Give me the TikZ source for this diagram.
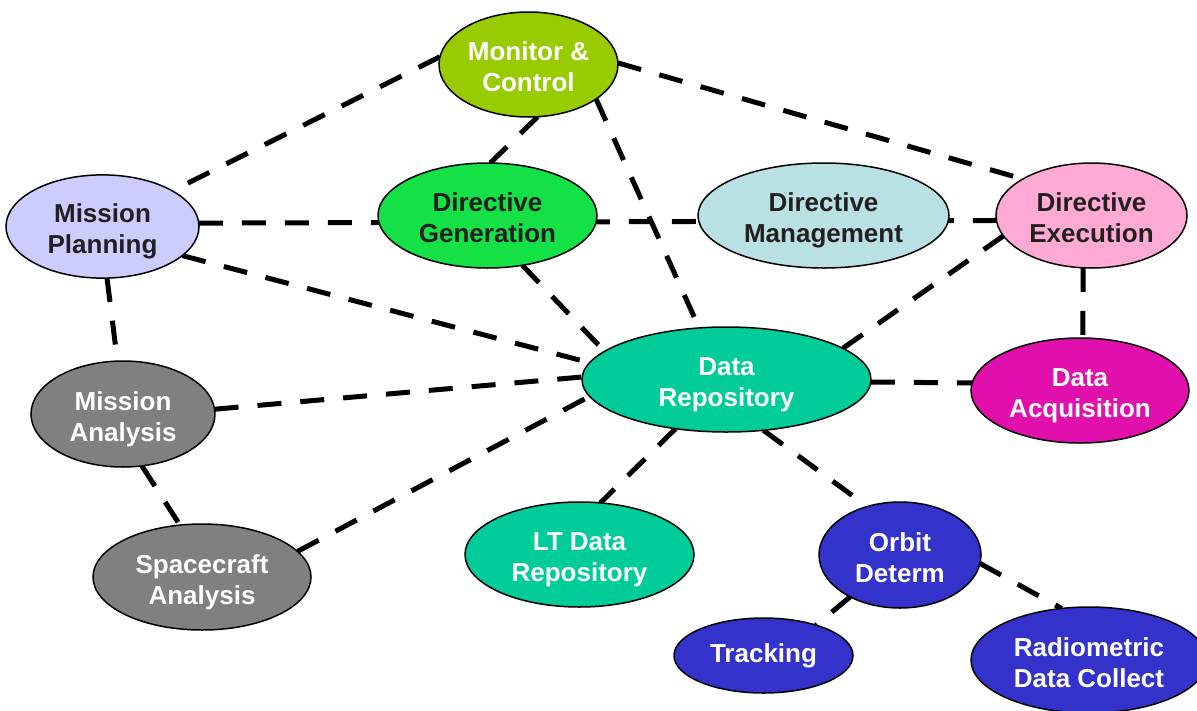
\documentclass[tikz,border=0pt]{standalone}
\usepackage{fontspec}
\setmainfont{Liberation Sans}
\usetikzlibrary{shapes.geometric}
\pgfdeclarelayer{background}
\pgfsetlayers{background,main}
\definecolor{cMC}{HTML}{99CC00}
\definecolor{cMP}{HTML}{CCCCFF}
\definecolor{cDG}{HTML}{13E145}
\definecolor{cDM}{HTML}{B9E0E3}
\definecolor{cDE}{HTML}{FFAAD4}
\definecolor{cDR}{HTML}{00CC99}
\definecolor{cDA}{HTML}{E10FAB}
\definecolor{cGR}{HTML}{808080}
\definecolor{cBL}{HTML}{3333CC}
\definecolor{cTX}{HTML}{231F20}
\newcommand\twolines[2]{\begin{tabular}{@{}c@{}}\rule{0pt}{32.7pt}#1\\#2\rule[-9.3pt]{0pt}{9.3pt}\end{tabular}}
\tikzset{
  bub/.style={ellipse, draw=black, line width=1.5pt, inner sep=0pt, outer sep=0pt,
    font=\bfseries\fontsize{26pt}{31pt}\selectfont},
  lt/.style={bub, text=white},
  dk/.style={bub, text=cTX},
  link/.style={line width=5pt, dash pattern=on 24pt off 19pt}
}
\begin{document}
\begin{tikzpicture}[x=1pt,y=-1pt]
\useasboundingbox (0,0) rectangle (1197,710);
\node[lt, fill=cMC, minimum width=179pt, minimum height=105pt] (mc) at (528.5,64.5) {\twolines{Monitor \&}{Control}};
\node[dk, fill=cMP, minimum width=193pt, minimum height=103pt] (mp) at (102.5,226.5) {\twolines{Mission}{Planning}};
\node[dk, fill=cDG, minimum width=219pt, minimum height=105pt] (dg) at (487.5,215.5) {\twolines{Directive}{Generation}};
\node[dk, fill=cDM, minimum width=251pt, minimum height=105pt] (dm) at (823.5,215.5) {\twolines{Directive}{Management}};
\node[dk, fill=cDE, minimum width=191pt, minimum height=105pt] (de) at (1091.5,215.5) {\twolines{Directive}{Execution}};
\node[lt, fill=cDR, minimum width=289pt, minimum height=105pt] (dr) at (726.5,379.5) {\twolines{Data}{Repository}};
\node[lt, fill=cDA, minimum width=218pt, minimum height=105pt] (da) at (1080,390.5) {\twolines{Data}{Acquisition}};
\node[lt, fill=cGR, minimum width=184pt, minimum height=106pt] (ma) at (123,414) {\twolines{Mission}{Analysis}};
\node[lt, fill=cGR, minimum width=218pt, minimum height=106pt] (sa) at (202,577) {\twolines{Spacecraft}{Analysis}};
\node[lt, fill=cDR, minimum width=229pt, minimum height=105pt] (ltr) at (579.5,554.5) {\twolines{LT Data}{Repository}};
\node[lt, fill=cBL, minimum width=162pt, minimum height=106pt] (od) at (900,555) {\twolines{Orbit}{Determ}};
\node[lt, fill=cBL, minimum width=179pt, minimum height=75pt] (tr) at (763.5,655.5) {Tracking};
\node[lt, fill=cBL, minimum width=236pt, minimum height=106pt] (rdc) at (1089,660) {\twolines{Radiometric}{Data Collect}};
\begin{pgfonlayer}{background}
\draw[link] (mc.175) -- (mp.27);
\draw[link] (mc.-80) -- (dg.87);
\draw[link] (mc.-27) -- (dr.118.6);
\draw[link] (mc.1.5) -- (de.152);
\draw[link] (mp.2.7) -- (de.183.9);
\draw[link] (mp.-20.3) -- (dr.173.4);
\draw[link] (mp.-85) -- (ma.96);
\draw[link] (dg.-55) -- (dr.167.4);
\draw[link] (de.-167.5) -- (dr.15);
\draw[link] (de.-99.5) -- (da.87);
\draw[link] (ma.3.4) -- (dr.179);
\draw[link] (ma.-70.5) -- (sa.113.6);
\draw[link] (sa.15.3) -- (dr.-173.7);
\draw[link] (dr.-1.8) -- (da.176.6);
\draw[link] (dr.224.5) -- (ltr.68.3);
\draw[link] (dr.-54.3) -- (od.124.5);
\draw[link] (od.-140.2) -- (tr.30.7);
\draw[link] (od.-6.6) -- (rdc.118.7);
\end{pgfonlayer}
\end{tikzpicture}
\end{document}
